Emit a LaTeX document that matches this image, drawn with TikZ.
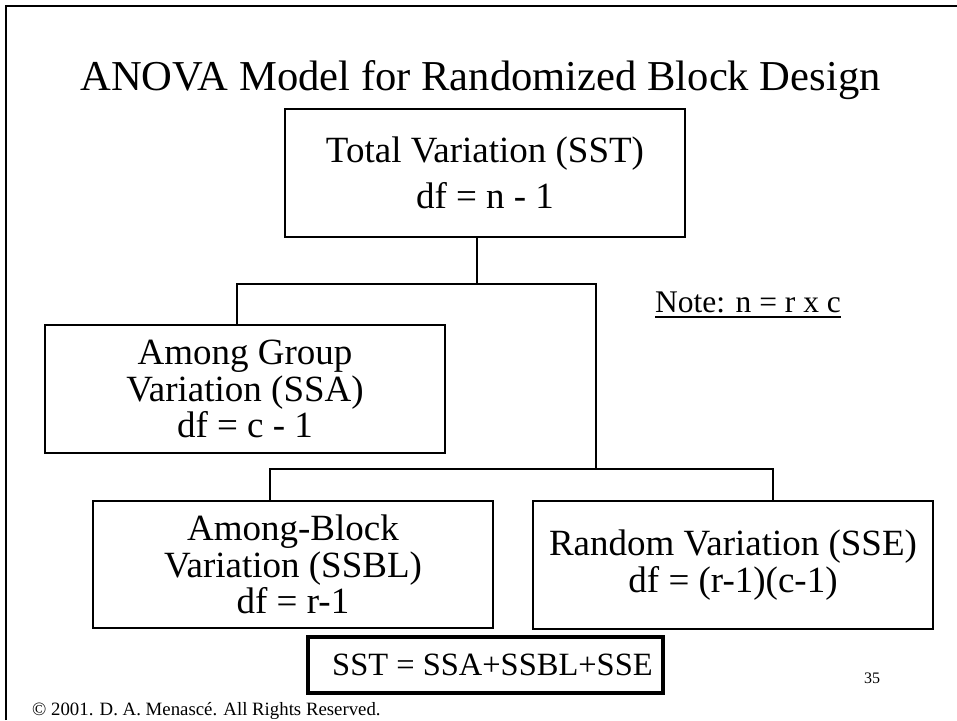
\documentclass[tikz,border=0pt]{standalone}
\usepackage{fontspec}
\setmainfont{Liberation Serif}
\begin{document}
\begin{tikzpicture}[x=1pt,y=-1pt,
  box/.style={draw,line width=2pt,rectangle,inner sep=0pt,align=center,
              minimum width=400pt,minimum height=128pt,
              font=\fontsize{37}{36.5}\selectfont},
  conn/.style={line width=2pt},
  sumbox/.style={draw,line width=4.5pt,rectangle,inner sep=0pt,
              minimum width=355pt,minimum height=56pt,
              font=\fontsize{32.5}{36}\selectfont}]
\useasboundingbox (0,0) rectangle (957,720);

% slide frame
\draw[line width=2.5pt] (6,720) -- (6,6) -- (957,6);

% title
\node[anchor=base,inner sep=0pt,font=\fontsize{42.6}{46}\selectfont] (title) at (480.5,90)
  {ANOVA Model for Randomized Block Design};

% boxes
\node[box,font=\fontsize{37}{46}\selectfont] (total) at (485,173)
  {Total Variation (SST)\\df = n - 1};
\node[box] (ssa) at (245,389)
  {Among Group\\Variation (SSA)\\df = c - 1};
\node[box,minimum height=127pt] (ssbl) at (293,564.5)
  {Among-Block\\Variation (SSBL)\\df = r-1};
\node[box] (sse) at (733,565)
  {Random Variation (SSE)\\df = (r-1)(c-1)};
\node[sumbox] (sst) at (485.5,665) {\hspace*{14pt}SST = SSA+SSBL+SSE};

% note
\node[anchor=base west,inner sep=0pt,font=\fontsize{31.5}{34}\selectfont] (note) at (655,312)
  {Note: n = r x c};
\draw[line width=1.5pt] ([yshift=-5pt]note.base west) -- ([yshift=-5pt]note.base east);

% connectors
\coordinate (stem) at (477,284);
\coordinate (ga) at (237,284);
\coordinate (gb) at (596,284);
\coordinate (ha) at (270,469);
\coordinate (hb) at (773,469);
\draw[conn] (total.south -| stem) -- (stem);
\draw[conn] (ssa.north -| ga) -- (ga) -- (gb) -- (gb |- ha);
\draw[conn] (ssbl.north -| ha) -- (ha) -- (hb) -- (sse.north -| hb);

% page number and copyright
\node[anchor=base,inner sep=0pt,font=\fontsize{16}{18}\selectfont] (page) at (872,683) {35};
\node[anchor=base west,inner sep=0pt,font=\fontsize{18.8}{20}\selectfont] (copy) at (32,715)
  {© 2001. D. A. Menascé. All Rights Reserved.};
\end{tikzpicture}
\end{document}
